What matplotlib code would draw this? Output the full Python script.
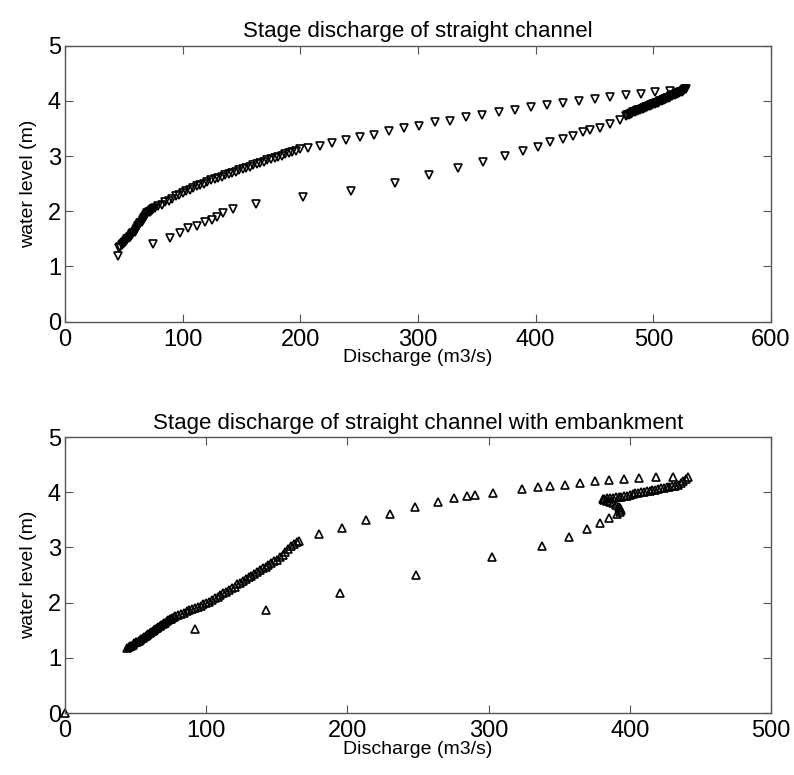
import numpy as np
import matplotlib.pyplot as plt

plt.rcParams['font.family'] = ['Liberation Sans', 'DejaVu Sans']

# straight channel: rising limb (right branch) then falling limb (left branch)
q_straight = [45.3, 75, 89.2, 97.7, 104.8, 111.9, 118.9, 124.6, 129.4, 134.5, 142.5, 162.3,
              202, 243, 280.4, 309.3, 334.2, 355.4, 373.8, 388.8, 402, 412, 423.4, 431.9,
              439.8, 446, 454.5, 463, 471.5,
              477, 478, 479, 480, 481, 482, 483, 484, 485, 486, 487, 488, 489, 490, 491, 492,
              493, 494, 495, 496, 497, 498, 499, 500, 501, 502, 503, 504, 505, 506, 507, 508,
              509, 510, 511, 512, 513, 514, 515, 516, 517, 518, 519, 520, 521, 522, 523, 524,
              525, 526, 527, 528,
              514, 501.8, 489.4, 476.6, 463, 450, 437, 422.8, 409.5, 395.9, 382.3, 368.7,
              354.3, 340.7, 327.1, 314.4, 300.8, 288, 275.3, 262.5, 250.6, 238.7, 226.8,
              216.7, 206.5, 199.7, 196, 193, 190, 187, 184, 181, 178, 175, 172, 169, 166,
              163, 160, 157, 154, 151, 148, 145, 142, 139, 136, 133, 130, 127, 124, 121,
              118, 115, 112, 109, 106, 103, 100, 97, 94, 91, 88, 85, 82, 79,
              76, 75, 74, 73, 72, 71, 70, 69, 68, 67, 66, 65, 64, 63, 62, 61, 60, 59, 58,
              57, 56, 55, 54, 53, 52, 51, 50, 49, 48, 47, 46]
h_straight = [1.19, 1.40, 1.51, 1.60, 1.69, 1.74, 1.80, 1.84, 1.90, 1.97, 2.05, 2.14,
              2.25, 2.37, 2.52, 2.65, 2.78, 2.89, 3.00, 3.10, 3.17, 3.26, 3.31, 3.37,
              3.43, 3.47, 3.51, 3.59, 3.66,
              3.73, 3.74, 3.75, 3.76, 3.77, 3.78, 3.79, 3.80, 3.81, 3.82, 3.83, 3.84, 3.84, 3.85, 3.86, 3.87,
              3.88, 3.89, 3.89, 3.90, 3.91, 3.92, 3.93, 3.94, 3.95, 3.96, 3.97, 3.97, 3.98, 3.99, 4.00, 4.01,
              4.02, 4.03, 4.04, 4.05, 4.06, 4.07, 4.08, 4.09, 4.10, 4.11, 4.12, 4.13, 4.14, 4.15, 4.16, 4.17,
              4.18, 4.19, 4.21, 4.22,
              4.18, 4.16, 4.13, 4.10, 4.07, 4.03, 3.99, 3.96, 3.93, 3.89, 3.84, 3.79,
              3.75, 3.70, 3.64, 3.61, 3.55, 3.50, 3.46, 3.39, 3.35, 3.30, 3.24,
              3.19, 3.15, 3.12, 3.09, 3.07, 3.05, 3.03, 3.01, 2.99, 2.96, 2.94, 2.92, 2.90, 2.88,
              2.86, 2.84, 2.81, 2.79, 2.77, 2.74, 2.72, 2.70, 2.68, 2.65, 2.63, 2.61, 2.58, 2.56, 2.53,
              2.50, 2.48, 2.45, 2.42, 2.39, 2.36, 2.33, 2.30, 2.27, 2.23, 2.19, 2.16, 2.12, 2.09,
              2.06, 2.04, 2.03, 2.01, 1.99, 1.98, 1.96, 1.94, 1.90, 1.87, 1.84, 1.81, 1.78, 1.75, 1.73,
              1.69, 1.66, 1.63, 1.60, 1.58, 1.55, 1.53, 1.51, 1.49, 1.46, 1.44, 1.42, 1.40, 1.38, 1.36, 1.34]

# channel with embankment
q_embank = [0, 92, 142, 194.8, 248.6, 302.2, 338, 357.2, 369.9, 378.9, 385.5, 390.7,
            393, 394, 393, 392, 390, 388, 386, 384, 382, 381, 382, 384, 386, 388, 390, 392,
            394, 396, 398, 400, 402, 404, 406, 408, 410, 412, 414, 416, 418, 420, 422, 424,
            426, 428, 430, 432, 434, 436, 438, 440, 441,
            430.8, 418.6, 406.7, 395.9, 385.5, 375.4, 364.7, 354.3, 343.5, 335.2, 323.9,
            302.9, 290.4, 284.5, 275.5, 263.9, 247.9, 230.2, 213.2, 196, 180.1,
            166, 164, 162, 160, 158, 156, 154, 152, 150, 148, 146, 144, 142, 140, 138, 136,
            134, 132, 130, 128, 126, 124, 122, 120, 118, 116, 114, 112, 110, 108, 106, 104,
            102, 100, 98, 96, 94, 92, 90, 88, 86, 84, 82, 80, 78,
            77, 76, 75, 74, 73, 72, 71, 70, 69, 68, 67, 66, 65, 64, 63, 62, 61, 60, 59, 58,
            57, 56, 55, 54, 53, 52, 51, 50, 49, 48, 47, 46, 45, 44]
h_embank = [0.0, 1.53, 1.86, 2.18, 2.50, 2.82, 3.03, 3.19, 3.33, 3.44, 3.53, 3.60,
            3.65, 3.68, 3.71, 3.74, 3.77, 3.80, 3.82, 3.84, 3.86, 3.88, 3.88, 3.89, 3.89, 3.90, 3.91, 3.91,
            3.92, 3.93, 3.94, 3.95, 3.96, 3.98, 3.99, 4.00, 4.01, 4.02, 4.03, 4.04, 4.05, 4.06, 4.07, 4.08,
            4.09, 4.10, 4.11, 4.12, 4.14, 4.17, 4.20, 4.24, 4.28,
            4.28, 4.28, 4.26, 4.24, 4.22, 4.20, 4.17, 4.14, 4.12, 4.09, 4.06,
            3.99, 3.95, 3.93, 3.89, 3.83, 3.73, 3.61, 3.50, 3.36, 3.24,
            3.12, 3.09, 3.06, 3.02, 2.97, 2.92, 2.87, 2.82, 2.78, 2.75, 2.72, 2.68, 2.65, 2.62, 2.59, 2.56,
            2.52, 2.49, 2.46, 2.42, 2.39, 2.36, 2.33, 2.29, 2.26, 2.23, 2.20, 2.17, 2.14, 2.11, 2.08, 2.05,
            2.02, 1.99, 1.97, 1.94, 1.92, 1.90, 1.88, 1.86, 1.84, 1.82, 1.80, 1.77, 1.75,
            1.74, 1.73, 1.71, 1.70, 1.68, 1.66, 1.64, 1.63, 1.61, 1.59, 1.57, 1.56, 1.54, 1.52, 1.50, 1.49,
            1.47, 1.45, 1.43, 1.42, 1.40, 1.38, 1.36, 1.35, 1.33, 1.31, 1.29, 1.28, 1.26, 1.24, 1.22, 1.21,
            1.19, 1.17]

fig = plt.figure(figsize=(7.94, 7.75), dpi=100)
ax1 = fig.add_axes([0.082, 0.585, 0.889, 0.356])
ax2 = fig.add_axes([0.082, 0.080, 0.889, 0.356])


def style(ax, xmax, title):
    ax.set_xlim(0, xmax)
    ax.set_ylim(0, 5)
    ax.set_xticks(np.arange(0, xmax + 1, 100))
    ax.set_yticks(np.arange(0, 6, 1))
    ax.tick_params(direction='in', top=True, right=True, length=6, width=0.8,
                   color='#555555', labelsize=17)
    ax.tick_params(axis='x', pad=5)
    ax.tick_params(axis='y', pad=3)
    for s in ax.spines.values():
        s.set_color('#555555')
        s.set_linewidth(1.0)
    ax.set_title(title, fontsize=16, pad=6)
    ax.set_xlabel('Discharge (m3/s)', fontsize=14, labelpad=-1)
    ax.set_ylabel('water level (m)', fontsize=14, labelpad=8)


ax1.plot(q_straight, h_straight, 'v', ms=5.5, mfc='none', mec='black', mew=1.2)
style(ax1, 600, 'Stage discharge of straight channel')

ax2.plot(q_embank, h_embank, '^', ms=5.5, mfc='none', mec='black', mew=1.2, clip_on=False)
style(ax2, 500, 'Stage discharge of straight channel with embankment')

fig.savefig('out.png', dpi=100)
